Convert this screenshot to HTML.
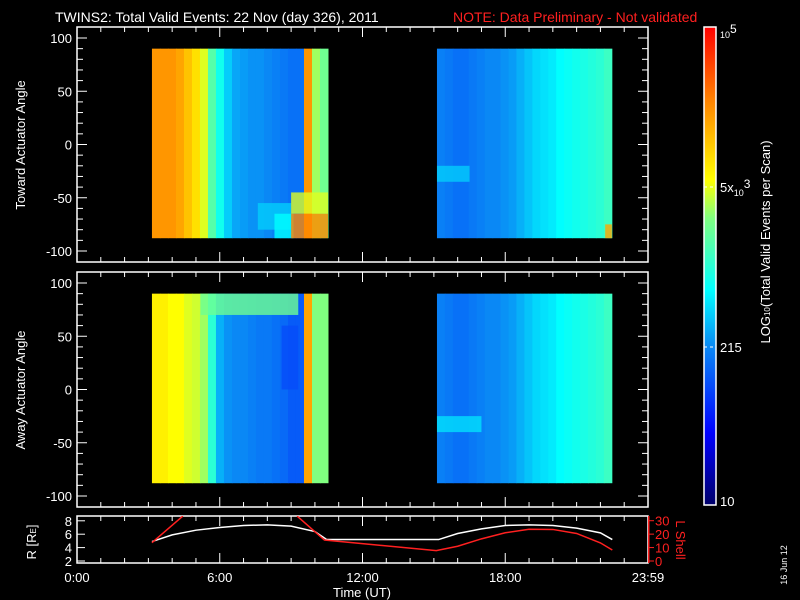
<!DOCTYPE html>
<html><head><meta charset="utf-8"><style>
body{margin:0;background:#000;}
svg{display:block;font-family:"Liberation Sans",sans-serif;}
</style></head><body>
<svg id="c" width="800" height="600" xmlns="http://www.w3.org/2000/svg">
<defs>
<linearGradient id="cbar" x1="0" y1="1" x2="0" y2="0">
<stop offset="0" stop-color="#00006a"/><stop offset="0.15" stop-color="#0000ff"/><stop offset="0.33" stop-color="#0a88f5"/><stop offset="0.45" stop-color="#00ffff"/><stop offset="0.6" stop-color="#80ff80"/><stop offset="0.68" stop-color="#ffff00"/><stop offset="0.85" stop-color="#ff8000"/><stop offset="1" stop-color="#ff0000"/>
</linearGradient>
<clipPath id="bclip"><rect x="77" y="516" width="571" height="47"/></clipPath>
</defs>
<text x="55" y="22" fill="#fff" font-size="14">TWINS2: Total Valid Events: 22 Nov (day 326), 2011</text>
<text x="453" y="22" fill="#ff2020" font-size="14">NOTE: Data Preliminary - Not validated</text>
<g id="spec"></g>
<g id="axes"></g>
<rect x="704" y="27" width="12" height="478" fill="url(#cbar)" stroke="#fff" stroke-width="1.5"/>
<text x="720" y="38" fill="#fff" font-size="9">10<tspan font-size="12" dy="-5">5</tspan></text>
<text x="720" y="192" fill="#fff" font-size="13">5x<tspan font-size="9" dy="4">10</tspan><tspan font-size="12" dy="-8">3</tspan></text>
<text x="720" y="352" fill="#fff" font-size="13">215</text>
<text x="720" y="506" fill="#fff" font-size="13">10</text>
<line x1="704" y1="187" x2="716" y2="187" stroke="#fff" stroke-dasharray="3,3"/>
<line x1="704" y1="347" x2="716" y2="347" stroke="#fff" stroke-dasharray="3,3"/>
<text transform="translate(770,242) rotate(-90)" text-anchor="middle" fill="#fff" font-size="13">LOG<tspan font-size="8">10</tspan>(Total Valid Events per Scan)</text>
<text transform="translate(25,145) rotate(-90)" text-anchor="middle" fill="#fff" font-size="13">Toward Actuator Angle</text>
<text transform="translate(25,390) rotate(-90)" text-anchor="middle" fill="#fff" font-size="13">Away Actuator Angle</text>
<text transform="translate(36,542) rotate(-90)" text-anchor="middle" fill="#fff" font-size="13">R [R<tspan font-size="8">E</tspan>]</text>
<text transform="translate(676,540) rotate(90)" text-anchor="middle" fill="#ff2020" font-size="13">L Shell</text>
<text x="362" y="597" text-anchor="middle" fill="#fff" font-size="13">Time (UT)</text>
<text transform="translate(787,565) rotate(-90)" text-anchor="middle" fill="#fff" font-size="9">16 Jun 12</text>
</svg>
<script>
const top1=[0.82,0.82,0.82,0.8,0.76,0.72,0.66,0.55,0.47,0.4,0.36,0.35,0.34,0.34,0.33,0.32,0.31,0.3,0.3,0.82,0.62,0.58];
const top2=[0.32,0.31,0.3,0.3,0.31,0.32,0.33,0.33,0.34,0.35,0.37,0.39,0.41,0.42,0.43,0.45,0.46,0.47,0.48,0.49,0.5,0.52];
const bot1=[0.7,0.7,0.68,0.68,0.66,0.65,0.62,0.5,0.37,0.34,0.33,0.33,0.32,0.31,0.31,0.3,0.29,0.27,0.27,0.8,0.6,0.6];
const bot2=[0.32,0.31,0.3,0.3,0.31,0.32,0.33,0.33,0.34,0.35,0.37,0.39,0.41,0.42,0.43,0.45,0.46,0.47,0.48,0.49,0.5,0.52];
const blockStart=[3.15,15.13];
const blockEnd=[10.55,22.48];
const angleMin=-88, angleMax=90;
const topFeatures=[[7.6,9.0,-80,-55,0.4],[8.3,9.1,-88,-65,0.45],[9.0,10.55,-65,-45,0.66],[9.0,10.55,-88,-65,0.84],[15.13,16.5,-35,-20,0.4],[22.2,22.48,-88,-75,0.8]];
const botFeatures=[[5.2,9.3,70,90,0.58],[8.6,9.3,0,60,0.25],[15.13,17,-40,-25,0.42]];
const tR=[3.15,4,5,6,7,8,9,10,10.5,15.2,16,17,18,19,20,21,22,22.5];
const R=[4.9,5.9,6.6,7.0,7.3,7.4,7.2,6.4,5.2,5.2,6.1,6.8,7.3,7.4,7.3,6.9,6.2,5.2];
const tL=[3.15,4.45,null,9.25,10.4,15.1,16,17,18,19,20,21,22,22.5];
const L=[13.6,33.5,null,33.5,15.6,7.7,11,16.5,21,23.6,23.5,20.5,13.5,8.2];
const hourTicks=[0,6,12,18,24];
const hourLabels=["0:00","6:00","12:00","18:00","23:59"];
const angTicks=[100,50,0,-50,-100];
const rTicks=[2,4,6,8];
const lTicks=[0,10,20,30];

const NS="http://www.w3.org/2000/svg";
const X0=77,X1=648;
const x=h=>X0+(h/24)*(X1-X0);
const panels=[{top:27,bot:262,y0:144.5,cols:[top1,top2],feat:topFeatures,name:'toward'},{top:272,bot:507,y0:389.5,cols:[bot1,bot2],feat:botFeatures,name:'away'}];
const yA=(p,a)=>p.y0-a*1.065;
const yR=v=>561-(v-2)*6.7;
const yL=v=>561-v*1.343;
const stops=[[0,[0,0,106]],[0.15,[0,0,255]],[0.33,[10,136,245]],[0.45,[0,255,255]],[0.6,[128,255,128]],[0.68,[255,255,0]],[0.85,[255,128,0]],[1,[255,0,0]]];
function cmap(v){v=Math.max(0,Math.min(1,v));for(let i=1;i<stops.length;i++){if(v<=stops[i][0]){const a=stops[i-1],b=stops[i],f=(v-a[0])/(b[0]-a[0]);const c=a[1].map((q,k)=>Math.round(q+(b[1][k]-q)*f));return `rgb(${c})`;}}return 'rgb(255,0,0)';}
const spec=document.getElementById('spec'),axes=document.getElementById('axes');
function el(t,a,parent){const e=document.createElementNS(NS,t);for(const k in a)e.setAttribute(k,a[k]);(parent||spec).appendChild(e);return e;}
panels.forEach(p=>{
  p.cols.forEach((arr,b)=>{
    const dt=(blockEnd[b]-blockStart[b])/arr.length;
    arr.forEach((v,i)=>{
      const t0=blockStart[b]+i*dt;
      const r=el('rect',{x:x(t0),y:yA(p,angleMax),width:x(t0+dt)-x(t0)+0.5,height:yA(p,angleMin)-yA(p,angleMax),fill:cmap(v)});
      
      
    });
  });
  p.feat.forEach(f=>{
    const r=el('rect',{x:x(f[0]),y:yA(p,f[3]),width:x(f[1])-x(f[0]),height:yA(p,f[2])-yA(p,f[3]),fill:cmap(f[4]),opacity:0.8});
    
    
  });
  const fr=el('rect',{x:X0,y:p.top,width:X1-X0,height:p.bot-p.top,fill:'none',stroke:'#fff','stroke-width':1.5},axes);
  
  
  for(let a=-100;a<=100;a+=10){const yy=yA(p,a);const len=a%50===0?10:6;el('line',{x1:X0,y1:yy,x2:X0+len,y2:yy,stroke:'#fff'},axes);el('line',{x1:X1,y1:yy,x2:X1-len,y2:yy,stroke:'#fff'},axes);}
  angTicks.forEach(a=>{const t=el('text',{x:72,y:yA(p,a)+5,'text-anchor':'end',fill:'#fff','font-size':13},axes);t.textContent=a;});
  for(let h=1;h<24;h++){const len=h%6===0?10:5;el('line',{x1:x(h),y1:p.top,x2:x(h),y2:p.top+len,stroke:'#fff'},axes);el('line',{x1:x(h),y1:p.bot,x2:x(h),y2:p.bot-len,stroke:'#fff'},axes);}
});
const bf=el('rect',{x:X0,y:516,width:X1-X0,height:47,fill:'none',stroke:'#fff','stroke-width':1.5},axes);


for(let h=1;h<24;h++){const len=h%6===0?10:5;el('line',{x1:x(h),y1:516,x2:x(h),y2:516+len,stroke:'#fff'},axes);el('line',{x1:x(h),y1:563,x2:x(h),y2:563-len,stroke:'#fff'},axes);}
rTicks.forEach(v=>{el('line',{x1:X0,y1:yR(v),x2:X0+8,y2:yR(v),stroke:'#fff'},axes);const t=el('text',{x:72,y:yR(v)+5,'text-anchor':'end',fill:'#fff','font-size':13},axes);t.textContent=v;});
el('rect',{x:X1,y:516,width:1.5,height:47,fill:'#ff2020'},axes);
lTicks.forEach(v=>{el('line',{x1:X1,y1:yL(v),x2:X1+6,y2:yL(v),stroke:'#ff2020'},axes);const t=el('text',{x:655,y:yL(v)+5,fill:'#ff2020','font-size':13},axes);t.textContent=v;});
hourTicks.forEach((h,i)=>{const t=el('text',{x:x(h),y:582,'text-anchor':'middle',fill:'#fff','font-size':13},axes);t.textContent=hourLabels[i];});
const rl=el('polyline',{points:tR.map((t,i)=>x(t)+','+yR(R[i])).join(' '),fill:'none',stroke:'#fff','stroke-width':1.5,'clip-path':'url(#bclip)'},axes);


let segs=[[]];tL.forEach((t,i)=>{if(t===null){segs.push([]);}else segs[segs.length-1].push(x(t)+','+yL(L[i]));});
segs.forEach(s=>{const pl=el('polyline',{points:s.join(' '),fill:'none',stroke:'#ff2020','stroke-width':1.5,'clip-path':'url(#bclip)'},axes);

});
</script>
</body></html>
